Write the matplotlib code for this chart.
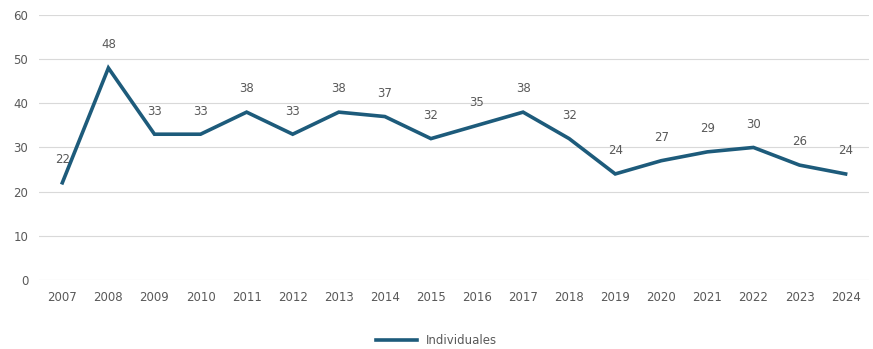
import matplotlib.pyplot as plt

years = [str(y) for y in range(2007, 2025)]
individuales = [22, 48, 33, 33, 38, 33, 38, 37, 32, 35, 38, 32, 24, 27, 29, 30, 26, 24]

line_color = '#1d5b7b'
text_color = '#595959'

fig = plt.figure(figsize=(8.73, 3.49), dpi=100)
ax = fig.add_axes([0.045, 0.198, 0.950, 0.759])

x = list(range(len(years)))
ax.plot(x, individuales, color=line_color, linewidth=2.6, label='Individuales', solid_joinstyle='miter')

# etiquetas de datos encima de cada punto
for xi, v in zip(x, individuales):
    ax.annotate(str(v), (xi, v), xytext=(0, 12), textcoords='offset points',
                ha='center', va='bottom', fontsize=8.5, color=text_color)

ax.set_xlim(-0.5, len(years) - 0.5)
ax.set_ylim(0, 60)
ax.set_yticks(range(0, 61, 10))
ax.set_xticks(x)
ax.set_xticklabels(years)
ax.tick_params(axis='both', length=0, labelsize=8.5, labelcolor=text_color, pad=8)
ax.grid(axis='y', color='#d9d9d9', linewidth=0.8)
ax.set_axisbelow(True)
for s in ax.spines.values():
    s.set_visible(False)

fig.legend(loc='lower center', bbox_to_anchor=(0.5, -0.025), frameon=False,
           fontsize=8.5, labelcolor=text_color, handlelength=3.5)

fig.savefig('out.png', dpi=100)
